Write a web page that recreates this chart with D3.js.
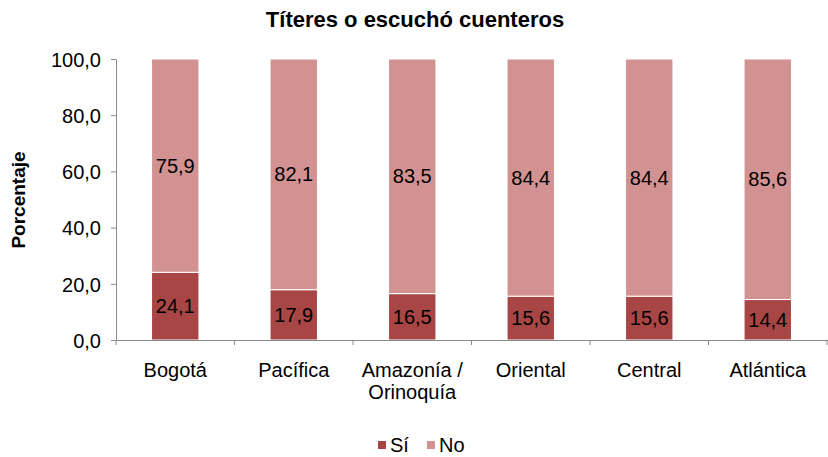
<!DOCTYPE html>
<html><head><meta charset="utf-8">
<script src="https://cdn.jsdelivr.net/npm/d3@7"></script>
<style>body{margin:0;background:#fff}svg{display:block;font-family:"Liberation Sans",Arial,sans-serif}</style>
</head><body><svg id="c" width="828" height="457"></svg>
<script>
const categories = ["Bogotá", "Pacífica", "Amazonía / Orinoquía", "Oriental", "Central", "Atlántica"];
const catLines = [["Bogotá"], ["Pacífica"], ["Amazonía /", "Orinoquía"], ["Oriental"], ["Central"], ["Atlántica"]];
const si = [24.1, 17.9, 16.5, 15.6, 15.6, 14.4];
const no = [75.9, 82.1, 83.5, 84.4, 84.4, 85.6];
const yTicks = [0, 20, 40, 60, 80, 100];
const seriesNames = ["Sí", "No"];
const colors = ["#A84646", "#D39292"];

const FS = 20;
const svg = d3.select("#c");
const x = d3.scaleBand().domain(categories).range([116, 827]).paddingInner(0.6).paddingOuter(0.3);
const y = d3.scaleLinear().domain([0, 100]).range([340, 59]);
const fmt = v => d3.format(".1f")(v).replace(".", ",");

svg.append("text").attr("x", 415).attr("y", 27).attr("text-anchor", "middle")
  .attr("font-weight", "bold").attr("font-size", 22).text("Títeres o escuchó cuenteros");

svg.append("text").attr("transform", "translate(25,200) rotate(-90)").attr("text-anchor", "middle")
  .attr("font-weight", "bold").attr("font-size", 19).text("Porcentaje");

// y axis
const ya = svg.append("g").attr("transform", "translate(116,0)")
  .call(d3.axisLeft(y).tickValues(yTicks).tickFormat(fmt).tickSize(5).tickSizeOuter(0));
ya.select(".domain").attr("stroke", "#888");
ya.selectAll(".tick line").attr("stroke", "#888");
ya.selectAll(".tick text").attr("font-size", FS).attr("fill", "#000").attr("x", -15)
  .attr("dy", "0.36em").attr("font-family", "Liberation Sans, Arial, sans-serif");

// bars
const data = categories.map((c, i) => ({c, si: si[i], no: no[i]}));
const stack = d3.stack().keys(["si", "no"])(data);
stack.forEach((s, k) => {
  svg.append("g").selectAll("rect").data(s).join("rect")
    .attr("x", d => x(d.data.c)).attr("width", x.bandwidth())
    .attr("y", d => y(d[1])).attr("height", d => y(d[0]) - y(d[1]))
    .attr("fill", colors[k]).attr("stroke", "#fff").attr("stroke-width", 1);
  svg.append("g").selectAll("text").data(s).join("text")
    .attr("x", d => x(d.data.c) + x.bandwidth() / 2)
    .attr("y", d => (y(d[0]) + y(d[1])) / 2 + 7)
    .attr("text-anchor", "middle").attr("font-size", FS).attr("fill", "#000")
    .text(d => fmt(d[1] - d[0]));
});

// x axis
svg.append("line").attr("x1", 116).attr("x2", 828).attr("y1", 340.5).attr("y2", 340.5).attr("stroke", "#888");
const bounds = d3.range(categories.length + 1).map(i => 116 + i * (711 / categories.length));
svg.append("g").selectAll("line").data(bounds).join("line")
  .attr("x1", d => d).attr("x2", d => d).attr("y1", 340).attr("y2", 345).attr("stroke", "#888");
categories.forEach((c, i) => {
  const t = svg.append("text").attr("x", x(c) + x.bandwidth() / 2).attr("y", 377)
    .attr("text-anchor", "middle").attr("font-size", FS).attr("fill", "#000");
  catLines[i].forEach((l, j) => t.append("tspan").attr("x", x(c) + x.bandwidth() / 2).attr("dy", j ? 22 : 0).text(l));
});

// legend
const lg = svg.append("g").attr("transform", "translate(378,445)");
const lx = [0, 49];
seriesNames.forEach((n, i) => {
  lg.append("rect").attr("x", lx[i]).attr("y", -4).attr("width", 8).attr("height", 8).attr("fill", colors[i]);
  lg.append("text").attr("x", lx[i] + 12).attr("y", 7).attr("font-size", FS).text(n);
});
</script></body></html>
